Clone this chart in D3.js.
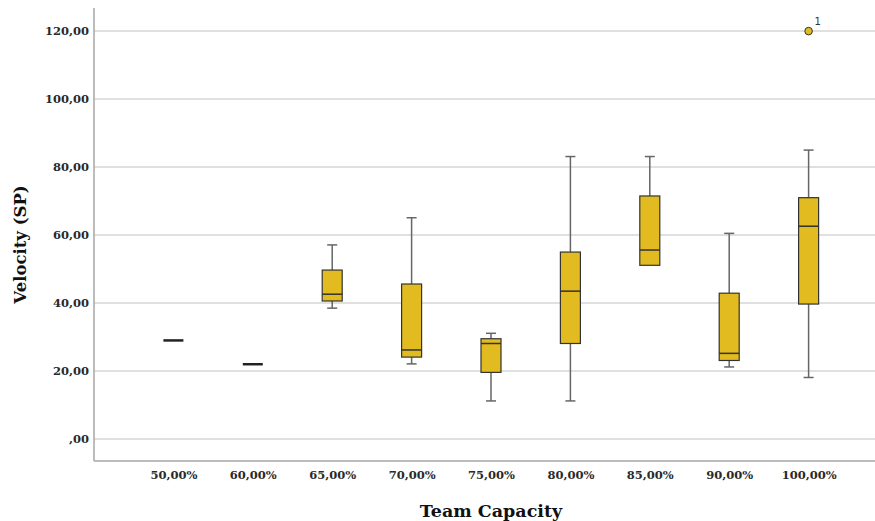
<!DOCTYPE html>
<html>
<head>
<meta charset="utf-8">
<script src="https://cdn.jsdelivr.net/npm/d3@7/dist/d3.min.js"></script>
<style>
  html, body { margin: 0; padding: 0; background: #fff; }
  svg { display: block; }
</style>
</head>
<body>
<svg id="chart" width="875" height="521"></svg>
<script>
// Team capacity groups and box-plot summaries of sprint velocity (story points)
const categories  = ["50,00%", "60,00%", "65,00%", "70,00%", "75,00%", "80,00%", "85,00%", "90,00%", "100,00%"];
const whiskerLow  = [29, 22, 38.5, 22.1, 11.2, 11.2, 51.1, 21.2, 18.1];
const q1          = [29, 22, 40.6, 24.1, 19.6, 28.1, 51.1, 23.1, 39.7];
const medians     = [29, 22, 42.6, 26.2, 28.1, 43.5, 55.6, 25.2, 62.6];
const q3          = [29, 22, 49.7, 45.6, 29.5, 55.0, 71.5, 42.9, 71.0];
const whiskerHigh = [29, 22, 57.1, 65.1, 31.1, 83.1, 83.1, 60.5, 85.0];
// Outliers: [category, value, case label]
const outliers    = [["100,00%", 120, "1"]];
const yTicks      = [0, 20, 40, 60, 80, 100, 120];

const svg = d3.select("#chart");
const plotL = 94, plotR = 888, plotT = 8, plotB = 461, edge = 875;

const x = d3.scalePoint().domain(categories).range([plotL, plotR]).padding(1);
const y = d3.scaleLinear().domain([-6.47, 126.8]).range([plotB, plotT]);

const fmt = v => (v === 0 ? ",00" : d3.format(".2f")(v).replace(".", ","));
const serif = "'DejaVu Serif', serif";

// Grid lines
svg.append("g")
  .selectAll("line")
  .data(yTicks)
  .join("line")
  .attr("x1", plotL).attr("x2", edge)
  .attr("y1", d => y(d)).attr("y2", d => y(d))
  .attr("stroke", "#d6d6d6").attr("stroke-width", 1.5);

// Y axis
const yAxis = svg.append("g")
  .attr("transform", `translate(${plotL},0)`)
  .call(d3.axisLeft(y).tickValues(yTicks).tickFormat(fmt).tickSize(0).tickPadding(5));
yAxis.select(".domain").remove();
yAxis.selectAll("text")
  .attr("font-family", serif).attr("font-weight", "bold").attr("font-size", 11.5).attr("fill", "#2a2a2a");

// X axis
const xAxis = svg.append("g")
  .attr("transform", `translate(0,${plotB})`)
  .call(d3.axisBottom(x).tickSize(0).tickPadding(10));
xAxis.select(".domain").remove();
xAxis.selectAll("text")
  .attr("font-family", serif).attr("font-weight", "bold").attr("font-size", 11.5).attr("fill", "#2a2a2a");

// Axis frame lines
svg.append("line")
  .attr("x1", plotL).attr("x2", plotL).attr("y1", plotT).attr("y2", plotB)
  .attr("stroke", "#a6a6a6").attr("stroke-width", 1.5);
svg.append("line")
  .attr("x1", plotL).attr("x2", edge).attr("y1", plotB).attr("y2", plotB)
  .attr("stroke", "#a6a6a6").attr("stroke-width", 1.5);

// Boxes
const boxW = 20, capW = 10;
const fill = "#e1bb1f";
const rows = categories.map((c, i) => ({
  c, lo: whiskerLow[i], q1: q1[i], med: medians[i], q3: q3[i], hi: whiskerHigh[i]
}));

const g = svg.append("g");
rows.forEach(d => {
  const cx = x(d.c);
  if (d.q1 === d.q3) {
    // single observation: draw just the median bar
    g.append("line")
      .attr("x1", cx - boxW / 2).attr("x2", cx + boxW / 2)
      .attr("y1", y(d.med)).attr("y2", y(d.med))
      .attr("stroke", "#222").attr("stroke-width", 2.5);
    return;
  }
  // whiskers
  if (d.hi > d.q3) {
    g.append("line").attr("x1", cx).attr("x2", cx)
      .attr("y1", y(d.hi)).attr("y2", y(d.q3))
      .attr("stroke", "#666").attr("stroke-width", 1.5);
    g.append("line").attr("x1", cx - capW / 2).attr("x2", cx + capW / 2)
      .attr("y1", y(d.hi)).attr("y2", y(d.hi))
      .attr("stroke", "#666").attr("stroke-width", 1.5);
  }
  if (d.lo < d.q1) {
    g.append("line").attr("x1", cx).attr("x2", cx)
      .attr("y1", y(d.q1)).attr("y2", y(d.lo))
      .attr("stroke", "#666").attr("stroke-width", 1.5);
    g.append("line").attr("x1", cx - capW / 2).attr("x2", cx + capW / 2)
      .attr("y1", y(d.lo)).attr("y2", y(d.lo))
      .attr("stroke", "#666").attr("stroke-width", 1.5);
  }
  // box
  g.append("rect")
    .attr("x", cx - boxW / 2).attr("width", boxW)
    .attr("y", y(d.q3)).attr("height", y(d.q1) - y(d.q3))
    .attr("fill", fill).attr("stroke", "#333").attr("stroke-width", 1.2);
  // median
  g.append("line")
    .attr("x1", cx - boxW / 2).attr("x2", cx + boxW / 2)
    .attr("y1", y(d.med)).attr("y2", y(d.med))
    .attr("stroke", "#333").attr("stroke-width", 1.5);
});

// Outliers
outliers.forEach(([c, v, lab]) => {
  g.append("circle")
    .attr("cx", x(c)).attr("cy", y(v)).attr("r", 3.8)
    .attr("fill", fill).attr("stroke", "#333").attr("stroke-width", 1);
  g.append("text")
    .attr("x", x(c) + 6).attr("y", y(v) - 6)
    .attr("font-family", "'DejaVu Sans', sans-serif").attr("font-size", 10)
    .attr("fill", "#333").text(lab);
});

// Axis titles
svg.append("text")
  .attr("x", 491).attr("y", 517)
  .attr("text-anchor", "middle")
  .attr("font-family", serif).attr("font-weight", "bold").attr("font-size", 17.5)
  .attr("fill", "#111").text("Team Capacity");
svg.append("text")
  .attr("transform", `translate(26,${(plotT + plotB) / 2 + 10}) rotate(-90)`)
  .attr("text-anchor", "middle")
  .attr("font-family", serif).attr("font-weight", "bold").attr("font-size", 16.5)
  .attr("fill", "#111").text("Velocity (SP)");
</script>
</body>
</html>
